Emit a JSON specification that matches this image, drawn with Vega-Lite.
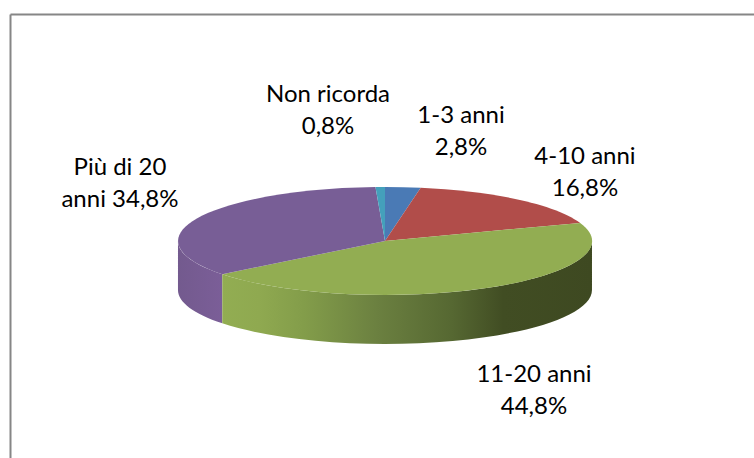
{
  "$schema": "https://vega.github.io/schema/vega-lite/v6.json",
  "width": 744,
  "height": 444,
  "autosize": {"type": "none"},
  "padding": {"left": 10, "top": 14, "right": 0, "bottom": 0},
  "background": "white",
  "view": {"stroke": null},
  "data": {"values": [
    {"name": "1-3 anni", "value": 2.8, "label": "1-3 anni\n2,8%"},
    {"name": "4-10 anni", "value": 16.8, "label": "4-10 anni\n16,8%"},
    {"name": "11-20 anni", "value": 44.8, "label": "11-20 anni\n44,8%"},
    {"name": "Più di 20 anni", "value": 34.8, "label": "Più di 20\nanni 34,8%"},
    {"name": "Non ricorda", "value": 0.8, "label": "Non ricorda\n0,8%"}
  ]},
  "encoding": {
    "x": {"datum": 0.504, "type": "quantitative", "scale": {"domain": [0, 1]},
      "axis": {"orient": "top", "title": null, "labels": false, "ticks": false, "grid": false, "domainColor": "#868686", "domainWidth": 2}},
    "y": {"datum": 0.511, "type": "quantitative", "scale": {"domain": [0, 1], "reverse": true},
      "axis": {"orient": "left", "title": null, "labels": false, "ticks": false, "grid": false, "domainColor": "#868686", "domainWidth": 2}}
  },
  "layer": [
    {
      "transform": [{"filter": "datum.name === 'Più di 20 anni'"}],
      "mark": {"type": "point", "filled": true, "size": 4, "opacity": 1, "shape": "M-162.7,33.4 A207,54 0 0 1 -207,0 L-207,49 A207,54 0 0 0 -162.7,82.4 Z", "fill": {"gradient": "linear", "x1": 0, "x2": 1, "y1": 0, "y2": 0, "stops": [{"offset": 0, "color": "#735a8e"}, {"offset": 1, "color": "#7b5e98"}]}}
    },
    {
      "transform": [{"filter": "datum.name === '11-20 anni'"}],
      "mark": {"type": "point", "filled": true, "size": 4, "opacity": 1, "shape": "M207,0 A207,54 0 0 1 -162.7,33.4 L-162.7,82.4 A207,54 0 0 0 207,49 Z", "fill": {"gradient": "linear", "x1": 0, "x2": 1, "y1": 0, "y2": 0, "stops": [{"offset": 0, "color": "#92ad52"}, {"offset": 0.1, "color": "#8fa950"}, {"offset": 0.22, "color": "#839d4a"}, {"offset": 0.42, "color": "#6b8040"}, {"offset": 0.62, "color": "#566832"}, {"offset": 0.76, "color": "#414d23"}, {"offset": 1, "color": "#3e4921"}]}}
    },
    {
      "mark": {"type": "point", "filled": true, "size": 4, "opacity": 1},
      "encoding": {
        "shape": {"field": "name", "type": "nominal", "legend": null, "scale": {
          "domain": ["1-3 anni", "4-10 anni", "11-20 anni", "Più di 20 anni", "Non ricorda"],
          "range": [
            "M0,0 L0,-54 A207,54 0 0 1 35.7,-53.2 Z",
            "M0,0 L35.7,-53.2 A207,54 0 0 1 195.2,-18 Z",
            "M0,0 L195.2,-18 A207,54 0 0 1 -162.7,33.4 Z",
            "M0,0 L-162.7,33.4 A207,54 0 0 1 -9.5,-53.9 Z",
            "M0,0 L-9.5,-53.9 A207,54 0 0 1 0,-54 Z"
          ]}},
        "color": {"field": "name", "type": "nominal", "legend": null, "scale": {
          "domain": ["1-3 anni", "4-10 anni", "11-20 anni", "Più di 20 anni", "Non ricorda"],
          "range": ["#4a7ab5", "#b14d4a", "#92ad52", "#785e96", "#44a0bb"]}}
      }
    },
    {
      "transform": [{"filter": "datum.name === 'Non ricorda'"}],
      "mark": {"type": "text", "font": "Lato", "fontSize": 24, "lineHeight": 32, "lineBreak": "\n", "align": "center", "baseline": "middle", "color": "#000000"},
      "encoding": {"text": {"field": "label"}, "x": {"datum": 0.4274, "type": "quantitative"}, "y": {"datum": 0.1825, "type": "quantitative"}}
    },
    {
      "transform": [{"filter": "datum.name === '1-3 anni'"}],
      "mark": {"type": "text", "font": "Lato", "fontSize": 24, "lineHeight": 32, "lineBreak": "\n", "align": "center", "baseline": "middle", "color": "#000000"},
      "encoding": {"text": {"field": "label"}, "x": {"datum": 0.6062, "type": "quantitative"}, "y": {"datum": 0.2295, "type": "quantitative"}}
    },
    {
      "transform": [{"filter": "datum.name === '4-10 anni'"}],
      "mark": {"type": "text", "font": "Lato", "fontSize": 24, "lineHeight": 32, "lineBreak": "\n", "align": "center", "baseline": "middle", "color": "#000000"},
      "encoding": {"text": {"field": "label"}, "x": {"datum": 0.7728, "type": "quantitative"}, "y": {"datum": 0.3225, "type": "quantitative"}}
    },
    {
      "transform": [{"filter": "datum.name === 'Più di 20 anni'"}],
      "mark": {"type": "text", "font": "Lato", "fontSize": 24, "lineHeight": 32, "lineBreak": "\n", "align": "center", "baseline": "middle", "color": "#000000"},
      "encoding": {"text": {"field": "label"}, "x": {"datum": 0.1478, "type": "quantitative"}, "y": {"datum": 0.3465, "type": "quantitative"}}
    },
    {
      "transform": [{"filter": "datum.name === '11-20 anni'"}],
      "mark": {"type": "text", "font": "Lato", "fontSize": 24, "lineHeight": 32, "lineBreak": "\n", "align": "center", "baseline": "middle", "color": "#000000"},
      "encoding": {"text": {"field": "label"}, "x": {"datum": 0.7043, "type": "quantitative"}, "y": {"datum": 0.8135, "type": "quantitative"}}
    }
  ]
}
